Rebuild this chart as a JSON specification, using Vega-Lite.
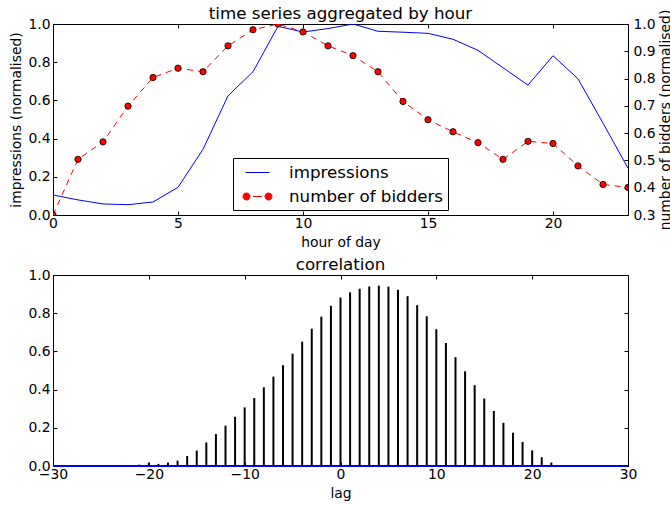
{
  "$schema": "https://vega.github.io/schema/vega-lite/v6.json",
  "padding": {"left": 9, "top": 5, "right": 0, "bottom": 0},
  "spacing": 5,
  "datasets": {
    "hours": [
      {"hour": 0, "impressions": 0.105, "bidders": 0.300},
      {"hour": 1, "impressions": 0.079, "bidders": 0.504},
      {"hour": 2, "impressions": 0.058, "bidders": 0.568},
      {"hour": 3, "impressions": 0.054, "bidders": 0.699},
      {"hour": 4, "impressions": 0.068, "bidders": 0.804},
      {"hour": 5, "impressions": 0.145, "bidders": 0.838},
      {"hour": 6, "impressions": 0.344, "bidders": 0.825},
      {"hour": 7, "impressions": 0.624, "bidders": 0.920},
      {"hour": 8, "impressions": 0.750, "bidders": 0.979},
      {"hour": 9, "impressions": 0.988, "bidders": 1.000},
      {"hour": 10, "impressions": 0.958, "bidders": 0.971},
      {"hour": 11, "impressions": 0.976, "bidders": 0.920},
      {"hour": 12, "impressions": 1.000, "bidders": 0.884},
      {"hour": 13, "impressions": 0.962, "bidders": 0.825},
      {"hour": 14, "impressions": 0.957, "bidders": 0.716},
      {"hour": 15, "impressions": 0.951, "bidders": 0.649},
      {"hour": 16, "impressions": 0.920, "bidders": 0.605},
      {"hour": 17, "impressions": 0.862, "bidders": 0.565},
      {"hour": 18, "impressions": 0.771, "bidders": 0.504},
      {"hour": 19, "impressions": 0.680, "bidders": 0.570},
      {"hour": 20, "impressions": 0.834, "bidders": 0.562},
      {"hour": 21, "impressions": 0.713, "bidders": 0.480},
      {"hour": 22, "impressions": 0.481, "bidders": 0.412},
      {"hour": 23, "impressions": 0.245, "bidders": 0.401}
    ],
    "corr": [
      {"lag": -23, "corr": 0.002}, {"lag": -22, "corr": 0.004}, {"lag": -21, "corr": 0.007},
      {"lag": -20, "corr": 0.018}, {"lag": -19, "corr": 0.011}, {"lag": -18, "corr": 0.018},
      {"lag": -17, "corr": 0.028}, {"lag": -16, "corr": 0.052}, {"lag": -15, "corr": 0.081},
      {"lag": -14, "corr": 0.123}, {"lag": -13, "corr": 0.167}, {"lag": -12, "corr": 0.211},
      {"lag": -11, "corr": 0.258}, {"lag": -10, "corr": 0.307}, {"lag": -9, "corr": 0.356},
      {"lag": -8, "corr": 0.412}, {"lag": -7, "corr": 0.468}, {"lag": -6, "corr": 0.528},
      {"lag": -5, "corr": 0.588}, {"lag": -4, "corr": 0.651}, {"lag": -3, "corr": 0.719},
      {"lag": -2, "corr": 0.782}, {"lag": -1, "corr": 0.839}, {"lag": 0, "corr": 0.882},
      {"lag": 1, "corr": 0.909}, {"lag": 2, "corr": 0.928}, {"lag": 3, "corr": 0.940},
      {"lag": 4, "corr": 0.944}, {"lag": 5, "corr": 0.939}, {"lag": 6, "corr": 0.923},
      {"lag": 7, "corr": 0.889}, {"lag": 8, "corr": 0.842}, {"lag": 9, "corr": 0.784},
      {"lag": 10, "corr": 0.716}, {"lag": 11, "corr": 0.644}, {"lag": 12, "corr": 0.570},
      {"lag": 13, "corr": 0.496}, {"lag": 14, "corr": 0.423}, {"lag": 15, "corr": 0.353},
      {"lag": 16, "corr": 0.288}, {"lag": 17, "corr": 0.226}, {"lag": 18, "corr": 0.174},
      {"lag": 19, "corr": 0.126}, {"lag": 20, "corr": 0.082}, {"lag": 21, "corr": 0.046},
      {"lag": 22, "corr": 0.018}, {"lag": 23, "corr": 0.003}
    ]
  },
  "config": {
    "font": "DejaVu Sans",
    "view": {"stroke": "black", "strokeWidth": 1},
    "axis": {
      "grid": false, "domain": false, "tickSize": -4, "tickColor": "black", "tickWidth": 1,
      "labelColor": "black", "labelFontSize": 13.9, "labelFont": "DejaVu Sans", "labelPadding": 5,
      "labelOverlap": false, "labelBound": false, "labelFlush": false,
      "titleFont": "DejaVu Sans", "titleFontSize": 13.9, "titleFontWeight": "normal", "titleColor": "black"
    },
    "title": {"fontSize": 16.7, "fontWeight": "normal", "font": "DejaVu Sans", "color": "black"}
  },
  "vconcat": [
    {
      "width": 575, "height": 191,
      "title": {"text": "time series aggregated by hour", "offset": -14},
      "data": {"name": "hours"},
      "layer": [
        {
          "mark": {"type": "line", "strokeWidth": 1, "clip": true},
          "encoding": {
            "x": {"field": "hour", "type": "quantitative", "scale": {"domain": [0, 23], "nice": false, "zero": false},
                  "axis": {"orient": "bottom", "values": [0, 5, 10, 15, 20], "format": "d", "title": "hour of day", "labelPadding": 5, "titlePadding": 6}},
            "y": {"field": "impressions", "type": "quantitative", "scale": {"domain": [0, 1], "nice": false},
                  "axis": {"orient": "left", "values": [0, 0.2, 0.4, 0.6, 0.8, 1.0], "format": ".1f", "title": "impressions (normalised)", "labelPadding": 7, "titlePadding": 4}},
            "color": {
              "datum": "impressions", "type": "nominal",
              "scale": {"domain": ["impressions", "number of bidders"], "range": ["#0000ff", "#ff0000"]},
              "legend": {
                "title": null, "orient": "none", "legendX": 180, "legendY": 134,
                "strokeColor": "black", "fillColor": "white", "padding": 4, "cornerRadius": 0,
                "labelFontSize": 16.7, "labelFont": "DejaVu Sans", "labelColor": "black", "labelLimit": 300,
                "labelOffset": 21, "symbolSize": 400, "symbolOffset": 10, "rowPadding": 4,
                "encode": {
                  "symbols": {
                    "update": {
                      "shape": {"signal": "datum.value == 'impressions' ? 'M-1.2,0 L1.2,0' : 'M-0.75,0 A0.35,0.35 0 1,1 -1.45,0 A0.35,0.35 0 1,1 -0.75,0 Z M1.45,0 A0.35,0.35 0 1,1 0.75,0 A0.35,0.35 0 1,1 1.45,0 Z M-0.45,0 L0.45,0'"},
                      "fill": {"signal": "datum.value == 'impressions' ? 'transparent' : '#ff0000'"},
                      "stroke": {"signal": "datum.value == 'impressions' ? '#0000ff' : 'black'"},
                      "strokeWidth": {"value": 1},
                      "size": {"value": 400},
                      "opacity": {"value": 1},
                      "fillOpacity": {"value": 1},
                      "strokeOpacity": {"value": 1}
                    }
                  }
                }
              }
            }
          }
        },
        {
          "mark": {"type": "line", "strokeWidth": 1, "strokeDash": [6, 5], "clip": true},
          "encoding": {
            "x": {"field": "hour", "type": "quantitative",
                  "axis": {"orient": "top", "values": [0, 5, 10, 15, 20], "labels": false, "title": null, "labelPadding": 0}},
            "y": {"field": "bidders", "type": "quantitative", "scale": {"domain": [0.3, 1.0], "nice": false, "zero": false},
                  "axis": {"orient": "right", "values": [0.3, 0.4, 0.5, 0.6, 0.7, 0.8, 0.9, 1.0], "format": ".1f",
                           "title": "number of bidders (normalised)", "titleAngle": 270, "titleBaseline": "top",
                           "labelPadding": 9, "titlePadding": 3}},
            "color": {"datum": "number of bidders", "type": "nominal"}
          }
        },
        {
          "mark": {"type": "point", "filled": true, "size": 40, "stroke": "black", "strokeWidth": 0.8, "opacity": 1, "clip": true},
          "encoding": {
            "x": {"field": "hour", "type": "quantitative", "axis": null},
            "y": {"field": "bidders", "type": "quantitative", "scale": {"domain": [0.3, 1.0], "nice": false, "zero": false}, "axis": null},
            "color": {"datum": "number of bidders", "type": "nominal"}
          }
        }
      ],
      "resolve": {"scale": {"y": "independent"}, "axis": {"x": "independent", "y": "independent"}}
    },
    {
      "width": 575, "height": 191,
      "title": {"text": "correlation", "offset": -6},
      "data": {"name": "corr"},
      "layer": [
        {
          "mark": {"type": "rule", "strokeWidth": 2, "color": "black"},
          "encoding": {
            "x": {"field": "lag", "type": "quantitative", "scale": {"domain": [-30, 30], "nice": false, "zero": false},
                  "axis": {"orient": "bottom", "values": [-30, -20, -10, 0, 10, 20, 30], "format": "d", "title": "lag", "labelPadding": 5, "titlePadding": 6}},
            "y": {"field": "corr", "type": "quantitative", "scale": {"domain": [0, 1], "nice": false},
                  "axis": {"orient": "left", "values": [0, 0.2, 0.4, 0.6, 0.8, 1.0], "format": ".1f", "title": null, "labelPadding": 7}},
            "y2": {"datum": 0}
          }
        },
        {
          "mark": {"type": "point", "opacity": 0},
          "encoding": {
            "x": {"field": "lag", "type": "quantitative",
                  "axis": {"orient": "top", "values": [-30, -20, -10, 0, 10, 20, 30], "labels": false, "title": null, "labelPadding": 0}},
            "y": {"field": "corr", "type": "quantitative",
                  "axis": {"orient": "right", "values": [0, 0.2, 0.4, 0.6, 0.8, 1.0], "labels": false, "title": null, "labelPadding": 0}}
          }
        },
        {
          "mark": {"type": "rule", "color": "#0000ff", "strokeWidth": 1},
          "encoding": {"y": {"datum": 0, "type": "quantitative", "axis": null}}
        }
      ],
      "resolve": {"axis": {"x": "independent", "y": "independent"}}
    }
  ]
}
